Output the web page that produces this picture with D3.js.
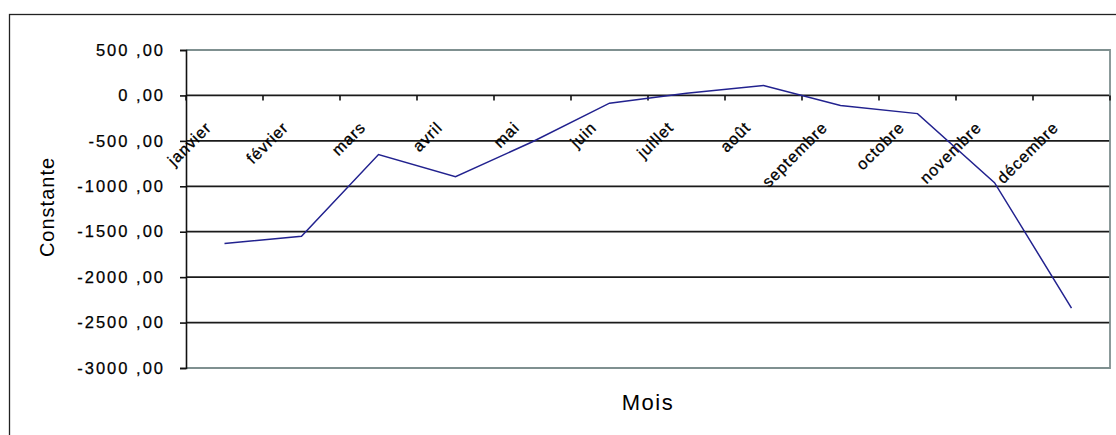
<!DOCTYPE html>
<html>
<head>
<meta charset="utf-8">
<script src="https://cdn.jsdelivr.net/npm/d3@7"></script>
<style>
  html, body { margin: 0; padding: 0; background: #fff; }
  svg { display: block; }
  text { font-family: "Liberation Sans", Arial, sans-serif; fill: #000; }
</style>
</head>
<body>
<svg id="chart" width="1116" height="435"></svg>
<script>
// Monthly constant values
const months = ["janvier", "février", "mars", "avril", "mai", "juin",
                "juillet", "août", "septembre", "octobre", "novembre", "décembre"];
const values = [-1630, -1550, -650, -895, -510, -85, 25, 110, -110, -200, -960, -2340];
const yTicks = [500, 0, -500, -1000, -1500, -2000, -2500, -3000];

const svg = d3.select("#chart");
const plot = { left: 186, right: 1110, top: 50, bottom: 368 };

const x = d3.scaleBand().domain(months).range([plot.left, plot.right]).padding(0);
const y = d3.scaleLinear().domain([-3000, 500]).range([plot.bottom, plot.top]);
const cx = m => x(m) + x.bandwidth() / 2;

// French number format with a plain hyphen: "-500 ,00"
const fmt = v => d3.format(".2f")(v).replace("\u2212", "-").replace(".", " ,");

// Outer chart frame
svg.append("rect")
  .attr("x", 9.5).attr("y", 14.5)
  .attr("width", 1200).attr("height", 500)
  .attr("fill", "none").attr("stroke", "#222").attr("stroke-width", 1.3);

// Horizontal gridlines (inner ones black)
svg.append("g").selectAll("line")
  .data(yTicks.filter(v => v !== 500 && v !== -3000))
  .join("line")
  .attr("x1", plot.left).attr("x2", plot.right)
  .attr("y1", d => y(d)).attr("y2", d => y(d))
  .attr("stroke", "#1a1a1a").attr("stroke-width", 1.7);

// Plot area border (top, right, bottom) in grey
svg.append("path")
  .attr("d", `M${plot.left},${y(500)}H${plot.right}V${y(-3000)}H${plot.left}`)
  .attr("fill", "none").attr("stroke", "#7f9090").attr("stroke-width", 1.8);

// Value axis
const yAxis = d3.axisLeft(y).tickValues(yTicks).tickFormat(fmt).tickSize(6).tickPadding(15);
const gy = svg.append("g").attr("transform", `translate(${plot.left},0)`).call(yAxis);
gy.select(".domain").attr("stroke", "#111").attr("stroke-width", 1.6);
gy.selectAll(".tick line").attr("stroke", "#111").attr("stroke-width", 1.6);
gy.selectAll(".tick text")
  .attr("font-size", 16.5).attr("letter-spacing", "2px")
  .attr("font-family", "'Liberation Sans', Arial, sans-serif")
  .attr("fill", "#000")
  .attr("stroke", "#000").attr("stroke-width", 0.25);

// Category axis crossing at zero: tick marks on band boundaries
const bounds = months.map(m => x(m)).concat([plot.right]);
svg.append("g").selectAll("line")
  .data(bounds)
  .join("line")
  .attr("x1", d => d).attr("x2", d => d)
  .attr("y1", y(0)).attr("y2", y(0) + 5)
  .attr("stroke", "#111").attr("stroke-width", 1.6);

// Rotated month labels
svg.append("g").selectAll("text")
  .data(months)
  .join("text")
  .attr("transform", d => `translate(${cx(d) - 12},${y(0) + 33}) rotate(-45)`)
  .attr("text-anchor", "end")
  .attr("font-size", 16)
  .attr("letter-spacing", "1px")
  .attr("stroke", "#000").attr("stroke-width", 0.3)
  .text(d => d);

// Data line
const line = d3.line().x((d, i) => cx(months[i])).y(d => y(d));
svg.append("path")
  .datum(values)
  .attr("d", line)
  .attr("fill", "none")
  .attr("stroke", "#22228f")
  .attr("stroke-width", 1.5);

// Axis titles
svg.append("text")
  .attr("transform", `translate(54,207) rotate(-90)`)
  .attr("text-anchor", "middle")
  .attr("font-size", 20).attr("letter-spacing", "1px")
  .text("Constante");

svg.append("text")
  .attr("x", (plot.left + plot.right) / 2)
  .attr("y", 410)
  .attr("text-anchor", "middle")
  .attr("font-size", 22).attr("letter-spacing", "1.5px")
  .text("Mois");
</script>
</body>
</html>
